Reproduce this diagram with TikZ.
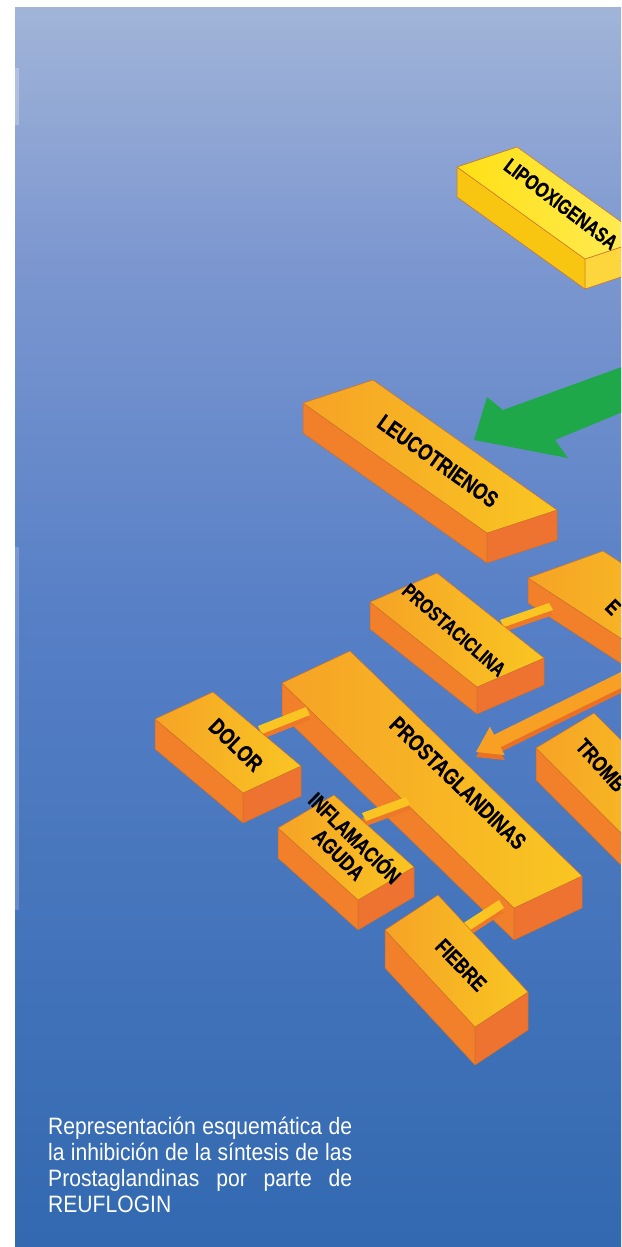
\documentclass[tikz,border=0pt]{standalone}
\usepackage{fontspec}
\setmainfont{Liberation Sans}
\newfontfamily\lblfont[FakeStretch=0.78,FakeBold=0.6]{Liberation Sans}
\newfontfamily\capfont[FakeStretch=0.89]{Liberation Sans}
\usetikzlibrary{calc}
\definecolor{bgA}{RGB}{161,180,216}
\definecolor{bgB}{RGB}{124,151,208}
\definecolor{bgC}{RGB}{86,127,198}
\definecolor{bgD}{RGB}{50,105,176}
\definecolor{otopL}{RGB}{246,163,38}
\definecolor{otopR}{RGB}{249,198,34}
\definecolor{ofr}{RGB}{242,128,43}
\definecolor{oen}{RGB}{238,115,48}
\definecolor{ytopL}{RGB}{255,224,20}
\definecolor{ytopR}{RGB}{255,236,90}
\definecolor{yfr}{RGB}{248,198,16}
\definecolor{yen}{RGB}{252,214,60}
\definecolor{edgec}{RGB}{205,112,40}
\definecolor{grn}{RGB}{30,168,74}
\definecolor{stickT}{RGB}{250,196,34}
\definecolor{stickD}{RGB}{236,120,40}
\definecolor{arrT}{RGB}{247,160,36}
\definecolor{arrD}{RGB}{234,112,36}
\tikzset{
  otop/.style={left color=otopL, right color=otopR},
  ofront/.style={fill=ofr},
  oend/.style={fill=oen},
  ytop/.style={left color=ytopL, right color=ytopR},
  yfront/.style={fill=yfr},
  yend/.style={fill=yen},
  face/.style={draw=edgec, line width=0.5pt, line join=round},
  lbl/.style={inner sep=0pt, text=black},
}
% #1 name, #2 P, #3 L vector, #4 W vector, #5 depth, #6 palette
\newcommand\slab[6]{%
  \coordinate (#1-a) at (#2);
  \coordinate (#1-b) at ($(#1-a)+(#3)$);
  \coordinate (#1-c) at ($(#1-b)+(#4)$);
  \coordinate (#1-d) at ($(#1-a)+(#4)$);
  \path[face,#6front] (#1-a) -- (#1-b) -- ($(#1-b)+(0,#5)$) -- ($(#1-a)+(0,#5)$) -- cycle;
  \path[face,#6end] (#1-b) -- (#1-c) -- ($(#1-c)+(0,#5)$) -- ($(#1-b)+(0,#5)$) -- cycle;
  \path[face,#6top] (#1-a) -- (#1-b) -- (#1-c) -- (#1-d) -- cycle;
}
% connector stick: #1 name, #2..#5 corners of its top face
\newcommand\stk[5]{%
  \coordinate (#1-1) at (#2); \coordinate (#1-2) at (#3);
  \coordinate (#1-3) at (#4); \coordinate (#1-4) at (#5);
  \fill[stickD] ($(#1-1)+(0,5)$) -- ($(#1-2)+(0,5)$) -- ($(#1-3)+(0,5)$) -- ($(#1-4)+(0,5)$) -- cycle;
  \fill[stickT] (#1-1) -- (#1-2) -- (#1-3) -- (#1-4) -- cycle;
}
\begin{document}
\begin{tikzpicture}[x=1pt,y=-1pt]
\useasboundingbox (0,0) rectangle (621,1247);
\fill[white] (0,0) rectangle (621,1247);
\begin{scope}
\clip (15,8) rectangle (621,1247);
\shade[top color=bgA, bottom color=bgB] (15,8) rectangle (621,261);
\shade[top color=bgB, bottom color=bgC] (15,260) rectangle (621,621);
\shade[top color=bgC, bottom color=bgD] (15,620) rectangle (621,1247);
\fill[white, opacity=0.25] (15,68) rectangle (19,125);
\fill[white, opacity=0.18] (15,547) rectangle (19,910);

% lipooxigenasa
\slab{lipo}{457,167}{128,92}{60,-20}{30}{y}
\node[lbl, rotate=-37, font=\lblfont\bfseries\fontsize{20.9}{21}\selectfont] (tlipo) at (561,204) {LIPOOXIGENASA};

% green arrow
\coordinate (gtip) at (474,440);
\fill[grn] (630,364) -- (503,410) -- (487,397) -- (gtip) -- (568,458) -- (555,440) -- (630,409) -- cycle;

% leucotrienos
\slab{leuco}{303,403}{184,130}{70,-23}{30}{o}
\node[lbl, rotate=-35.5, font=\lblfont\bfseries\fontsize{22.9}{23}\selectfont] (tleuco) at (438,461) {LEUCOTRIENOS};

% E block
\slab{eblk}{528,578}{120,78}{75,-27}{25}{o}
\node[lbl, anchor=west, rotate=-45, font=\lblfont\bfseries\fontsize{21.8}{22}\selectfont] (te) at (609,603) {E};

% stick prostaciclina - E
\stk{s4}{500,620}{549,603}{553,610}{504,627}

% prostaciclina
\slab{pcic}{370,602}{107,85}{67,-29}{27}{o}
\node[lbl, rotate=-41, font=\lblfont\bfseries\fontsize{20.3}{21}\selectfont] (tpcic) at (454,630) {PROSTACICLINA};

% tromb block
\slab{tromb}{536,748}{110,110}{58,-35}{32}{o}
\node[lbl, anchor=west, rotate=-48, font=\lblfont\bfseries\fontsize{21.8}{22}\selectfont] (ttromb) at (580,742) {TROMB};

% orange arrow
\coordinate (otip) at (476,752);
\fill[arrD] (627,674) -- (494,739.7) -- (489.9,731.7) -- ($(otip)+(0,5)$) -- (504.7,760.1) -- (500.5,752.1) -- (631,688) -- cycle;
\fill[arrT] (627,669) -- (494.1,734.7) -- (489.9,726.7) -- (otip) -- (504.7,755.1) -- (500.5,747.1) -- (631,683) -- cycle;

% prostaglandinas
\slab{pgl}{282,683}{232,225}{68,-32}{32}{o}
\node[lbl, rotate=-44, font=\lblfont\bfseries\fontsize{22.9}{23}\selectfont] (tpgl) at (458,783) {PROSTAGLANDINAS};

% sticks to prostaglandinas
\stk{s1}{258,726}{306,707}{310,715}{262,734}
\stk{s2}{362,813}{406,797}{410,805}{366,821}
\stk{s3}{462,924}{499,900}{504,908}{467,932}

% dolor
\slab{dolor}{155,719}{88,74}{58,-27}{30}{o}
\node[lbl, rotate=-44, font=\lblfont\bfseries\fontsize{22.9}{23}\selectfont] (tdolor) at (236,745) {DOLOR};

% inflamacion aguda
\slab{infl}{278,828}{80,72}{56,-33}{30}{o}
\node[lbl, rotate=-44.5, align=center, font=\lblfont\bfseries\fontsize{21.8}{23}\selectfont] (tinfl) at (348,845) {INFLAMACIÓN\\AGUDA};

% fiebre
\slab{fieb}{385,930}{90,97}{53,-35}{38}{o}
\node[lbl, rotate=-46, font=\lblfont\bfseries\fontsize{21.8}{22}\selectfont] (tfieb) at (461,965) {FIEBRE};
\end{scope}

% caption
\begin{scope}[every node/.style={anchor=base west, inner sep=0pt, text=white, font=\capfont\fontsize{23.7}{25.7}\selectfont}]
\node (cap1) at (48,1134) {\makebox[304pt][s]{Representación esquemática de}};
\node (cap2) at (48,1160) {\makebox[304pt][s]{la inhibición de la síntesis de las}};
\node (cap3) at (48,1186) {\makebox[304pt][s]{Prostaglandinas por parte de}};
\node (cap4) at (48,1212) {REUFLOGIN};
\end{scope}
\end{tikzpicture}
\end{document}
